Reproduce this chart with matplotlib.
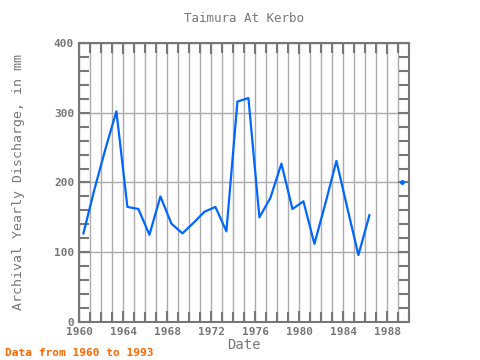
import numpy as np
import matplotlib
matplotlib.use("Agg")
import matplotlib.pyplot as plt
from matplotlib.ticker import MultipleLocator

# yearly values, plotted at mid-year offset
years = [1960, 1961, 1962, 1963, 1964, 1965, 1966, 1967, 1968, 1969,
         1970, 1971, 1972, 1973, 1974, 1975, 1976, 1977, 1978, 1979,
         1980, 1981, 1982, 1983, 1984, 1985, 1986, 1987, 1988, 1989]
discharge = [127, 190, 248, 302, 165, 162, 125, 180, 141, 127,
             142, 158, 165, 130, 316, 321, 150, 178, 227, 162,
             173, 112, 170, 231, 163, 96, 153, np.nan, np.nan, 200]

title = "Taimura At Kerbo"
ylabel = "Archival Yearly Discharge, in mm"
xlabel = "Date"
note = "Data from 1960 to 1993"

gray = "#777777"
plt.rcParams["font.family"] = ["DejaVu Sans Mono"]
plt.rcParams["font.weight"] = "bold"

fig = plt.figure(figsize=(4.8, 3.6), dpi=100)
ax = fig.add_axes([0.1646, 0.1056, 0.6875, 0.775])

x = np.array(years) + 0.4
y = np.array(discharge, dtype=float)
ax.plot(x, y, color="#0066ff", lw=1.6, zorder=3)
# isolated points
for i in range(len(y)):
    prev_nan = i == 0 or np.isnan(y[i - 1])
    next_nan = i == len(y) - 1 or np.isnan(y[i + 1])
    if not np.isnan(y[i]) and prev_nan and next_nan:
        ax.plot(x[i], y[i], "o", color="#0066ff", ms=2.5, zorder=3)

ax.set_xlim(1960, 1990)
ax.set_ylim(0, 400)
ax.xaxis.set_major_locator(MultipleLocator(4))
ax.xaxis.set_minor_locator(MultipleLocator(1))
ax.yaxis.set_major_locator(MultipleLocator(100))
ax.yaxis.set_minor_locator(MultipleLocator(20))

ax.grid(True, which="minor", axis="x", color="#aaaaaa", lw=1)
ax.grid(True, which="major", axis="x", color="#aaaaaa", lw=1)
ax.grid(True, which="major", axis="y", color="#aaaaaa", lw=1)

ax.tick_params(which="both", direction="in", top=True, right=True,
               color=gray, width=1.5, labelcolor=gray, labelsize=8)
ax.tick_params(which="major", length=8)
ax.tick_params(which="minor", length=7)
for s in ax.spines.values():
    s.set_color(gray)
    s.set_linewidth(1.5)

ax.set_title(title, color=gray, fontsize=9, pad=15)
ax.set_ylabel(ylabel, color=gray, fontsize=9.5)
ax.yaxis.set_label_coords(-0.165, 0.5)
ax.set_xlabel(xlabel, color=gray, fontsize=10, labelpad=1)
fig.text(0.01, 0.01, note, color="#ff6600", fontsize=8)

fig.savefig("out.png", dpi=100)
